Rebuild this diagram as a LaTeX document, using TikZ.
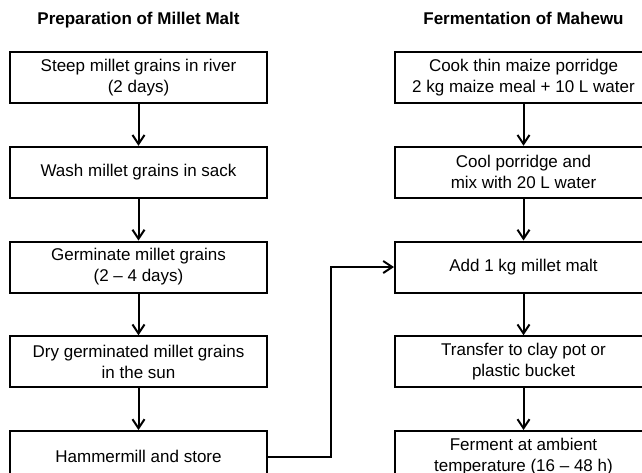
\documentclass[tikz,border=0pt]{standalone}
\usepackage{fontspec}
\setmainfont{Liberation Sans}
\usepackage{tikz}
\usetikzlibrary{arrows.meta}
\usetikzlibrary{positioning}
\tikzset{
  procbox/.style = {rectangle, draw=black, line width=2pt, align=center,
    inner sep=0pt, minimum width=257pt, minimum height=51pt,
    font=\fontsize{17pt}{21pt}\selectfont},% one step of the process
  headnode/.style = {inner sep=0pt,
    font=\fontsize{17pt}{21pt}\selectfont\bfseries}% heading of a column
}

\begin{document}
\begin{tikzpicture}[->,>={Straight Barb[length=9pt,width=12pt]},
  line width=2pt, node distance=41.75pt]
\useasboundingbox (0,0) rectangle (642pt,-472pt);
% malt
\node [procbox] (steep) at (138.5pt,-77.5pt) {Steep millet grains in river\\(2 days)};
\node [procbox, below=of steep] (wash) {Wash millet grains in sack};
\node [procbox, below=of wash] (germ) {Germinate millet grains\\(2 -- 4 days)};
\node [procbox, below=of germ] (dry) {Dry germinated millet grains\\in the sun};
\node [procbox, below=of dry] (mill) {Hammermill and store};
% mahewu
\node [procbox, right=126pt of steep] (cook) {Cook thin maize porridge\\2 kg maize meal + 10 L water};
\node [procbox, below=of cook] (cool) {Cool porridge and\\mix with 20 L water};
\node [procbox, below=of cool] (addmalt) {Add 1 kg millet malt};
\node [procbox, below=of addmalt] (pot) {Transfer to clay pot or\\plastic bucket};
\node [procbox, below=of pot] (ferment) {Ferment at ambient\\temperature (16 -- 48 h)};
\node [headnode, above=27pt of steep, anchor=base] (malthead) {Preparation of Millet Malt};
\node [headnode, above=27pt of cook, anchor=base] (mahewuhead) {Fermentation of Mahewu};
\draw (steep) -- (wash);
\draw (wash) -- (germ);
\draw (germ) -- (dry);
\draw (dry) -- (mill);
\draw (cook) -- (cool);
\draw (cool) -- (addmalt);
\draw (addmalt) -- (pot);
\draw (pot) -- (ferment);
\draw (mill.east) -- ++(63pt,0) |- (addmalt.west);
\end{tikzpicture}
\end{document}
